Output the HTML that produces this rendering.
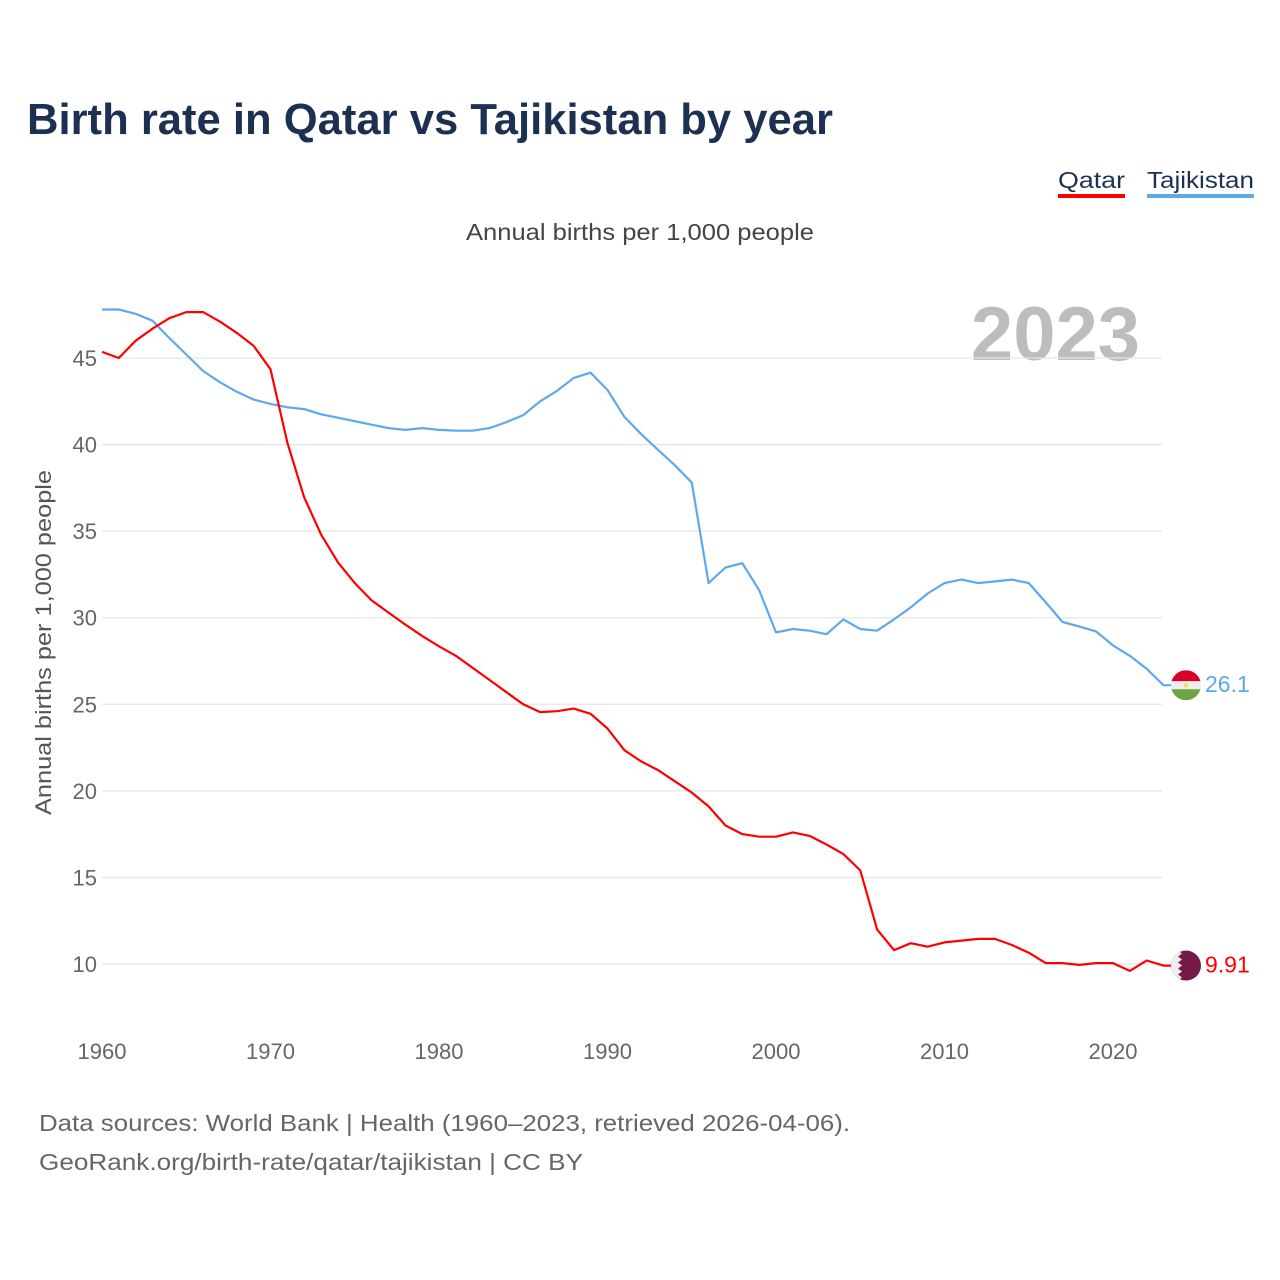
<!DOCTYPE html>
<html><head><meta charset="utf-8">
<style>
body{margin:0;background:#fff;width:1280px;height:1280px;overflow:hidden;font-family:"Liberation Sans",sans-serif;}
svg{display:block}
</style></head>
<body>
<svg id="chart" width="1280" height="1280">
<text x="27" y="134" font-size="44" font-weight="bold" fill="#1c3152" textLength="806" lengthAdjust="spacingAndGlyphs">Birth rate in Qatar vs Tajikistan by year</text>
<g>
<text x="1058" y="188" font-size="23" fill="#1c3152" textLength="67" lengthAdjust="spacingAndGlyphs">Qatar</text>
<rect x="1058" y="194" width="67" height="4" fill="#ff0000"/>
<text x="1147" y="188" font-size="23" fill="#1c3152" textLength="107" lengthAdjust="spacingAndGlyphs">Tajikistan</text>
<rect x="1147" y="194" width="107" height="4" fill="#5ea8ec"/>
</g>
<text x="466" y="240" font-size="23" fill="#444" textLength="348" lengthAdjust="spacingAndGlyphs">Annual births per 1,000 people</text>
<text x="1140" y="360" font-size="76" font-weight="bold" fill="#bdbdbd" text-anchor="end">2023</text>
<text transform="translate(51,815) rotate(-90)" font-size="22" fill="#555" textLength="345" lengthAdjust="spacingAndGlyphs">Annual births per 1,000 people</text>
<g id="grid"></g><g id="yt"></g><g id="xt"></g><g id="lines"></g><g id="ends"></g>
<text x="39" y="1131" font-size="23" fill="#666" textLength="811" lengthAdjust="spacingAndGlyphs">Data sources: World Bank | Health (1960–2023, retrieved 2026-04-06).</text>
<text x="39" y="1170" font-size="23" fill="#666" textLength="544" lengthAdjust="spacingAndGlyphs">GeoRank.org/birth-rate/qatar/tajikistan | CC BY</text>
</svg>
<script>
const years=[];for(let y=1960;y<=2023;y++)years.push(y);
const qatar=[45.35,45.0,46.0,46.7,47.3,47.65,47.65,47.1,46.45,45.7,44.35,40.1,36.95,34.8,33.2,32.0,31.0,30.3,29.6,28.95,28.35,27.8,27.1,26.4,25.7,25.0,24.55,24.6,24.75,24.45,23.6,22.35,21.7,21.2,20.55,19.9,19.1,18.0,17.5,17.35,17.35,17.6,17.4,16.9,16.35,15.4,12.0,10.8,11.2,11.0,11.25,11.35,11.45,11.45,11.1,10.65,10.05,10.05,9.95,10.05,10.05,9.6,10.2,9.91];
const tajik=[47.8,47.8,47.55,47.15,46.15,45.2,44.25,43.6,43.05,42.6,42.35,42.15,42.05,41.75,41.55,41.35,41.15,40.95,40.85,40.95,40.85,40.8,40.8,40.95,41.3,41.7,42.5,43.1,43.85,44.15,43.15,41.6,40.6,39.7,38.8,37.8,32.0,32.9,33.15,31.6,29.15,29.35,29.25,29.05,29.9,29.35,29.25,29.9,30.6,31.4,32.0,32.2,32.0,32.1,32.2,32.0,30.9,29.75,29.5,29.2,28.4,27.8,27.05,26.1];
const yTicks=[10,15,20,25,30,35,40,45];
const xTicks=[1960,1970,1980,1990,2000,2010,2020];
const NS="http://www.w3.org/2000/svg";
const X=y=>102+(y-1960)*1011/60;
const Y=v=>964-(v-10)*606/35;
function mk(tag,attrs,parent){const e=document.createElementNS(NS,tag);for(const k in attrs)e.setAttribute(k,attrs[k]);document.getElementById(parent).appendChild(e);return e;}
yTicks.forEach(v=>{
 const l=mk('line',{x1:102,x2:1162,y1:Y(v),y2:Y(v),stroke:'#e6e6e6','stroke-width':1.3},'grid');
 
 
 const t=mk('text',{x:97,y:Y(v)+8,'font-size':22,fill:'#666','text-anchor':'end'},'yt');t.textContent=v;
 
 
});
xTicks.forEach(v=>{
 const t=mk('text',{x:X(v),y:1059,'font-size':22,fill:'#666','text-anchor':'middle'},'xt');t.textContent=v;
 
 
});
function line(data,color,name){
 const d=data.map((v,i)=>(i?'L':'M')+X(years[i]).toFixed(1)+','+Y(v).toFixed(1)).join('')+'L1172,'+Y(data[data.length-1]).toFixed(1);
 const p=mk('path',{d:d,fill:'none',stroke:color,'stroke-width':2.2,'stroke-linejoin':'round'},'lines');
 
 
}
line(tajik,'#5ea8ec','tajikistan-line');
line(qatar,'#ff0000','qatar-line');
const tv=tajik[tajik.length-1],qv=qatar[qatar.length-1];
const ty=Y(tv),qy=Y(qv);
const tg=mk('g',{},'ends');


tg.innerHTML=`<clipPath id="ct"><circle cx="1186" cy="${ty}" r="15"/></clipPath><g clip-path="url(#ct)"><rect x="1170" y="${ty-15}" width="32" height="11" fill="#d80027"/><rect x="1170" y="${ty-4}" width="32" height="8" fill="#eee"/><rect x="1170" y="${ty+4}" width="32" height="11" fill="#6da544"/><circle cx="1186" cy="${ty}" r="2" fill="#ffda44"/></g>`;
const qg=mk('g',{},'ends');


qg.innerHTML=`<clipPath id="cq"><circle cx="1186" cy="${qy}" r="15"/></clipPath><g clip-path="url(#cq)"><rect x="1170" y="${qy-15}" width="32" height="30" fill="#751a46"/><polygon points="1170,${qy-15} 1178,${qy-15} 1182,${qy-12} 1178,${qy-9} 1182,${qy-6} 1178,${qy-3} 1182,${qy} 1178,${qy+3} 1182,${qy+6} 1178,${qy+9} 1182,${qy+12} 1178,${qy+15} 1170,${qy+15}" fill="#eee"/></g>`;
const tl=mk('text',{x:1205,y:ty+7,'font-size':23,fill:'#5ea8ec'},'ends');tl.textContent=tv;


const ql=mk('text',{x:1205,y:qy+7,'font-size':23,fill:'#ff0000'},'ends');ql.textContent=qv;


</script>
</body></html>
